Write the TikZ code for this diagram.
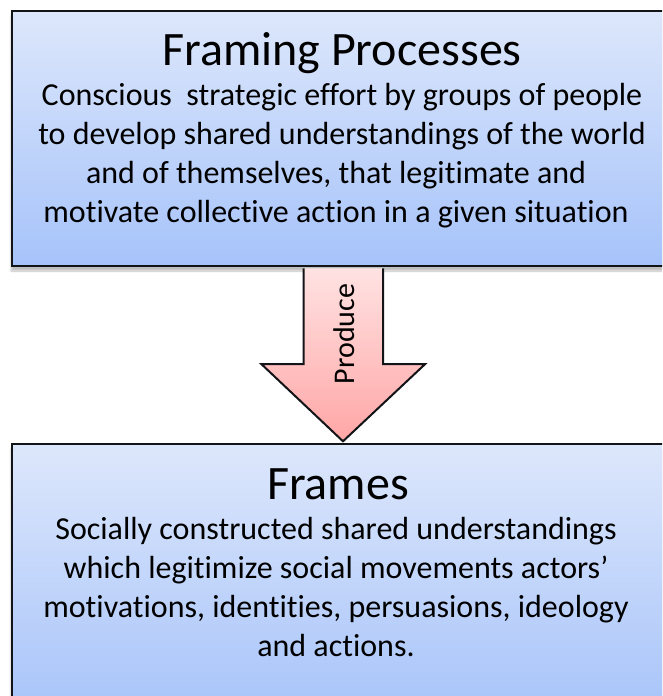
\documentclass[tikz,border=0pt]{standalone}
\usepackage{fontspec}
\setmainfont[Ligatures={NoCommon}]{Carlito}
\usetikzlibrary{calc,shadows.blur}
\definecolor{boxtop}{HTML}{DDE7FB}
\definecolor{boxbot}{HTML}{A6C3FA}
\definecolor{arrtop}{HTML}{FFE2E2}
\definecolor{arrbot}{HTML}{FFA6A6}
\definecolor{edge}{HTML}{121417}
\tikzset{
  box/.style={draw=edge, line width=2.4pt, top color=boxtop, bottom color=boxbot,
    rectangle, minimum width=660pt, inner sep=0pt,
    blur shadow={shadow xshift=-1pt, shadow yshift=-5pt, shadow blur steps=6, shadow opacity=25}},
  ttl/.style={font=\fontsize{48}{56}\selectfont, inner sep=0pt, anchor=base},
  bdy/.style={font=\fontsize{32}{38}\selectfont, inner sep=0pt, anchor=base},
  arr/.style={draw=edge, line width=2pt, top color=arrtop, bottom color=arrbot, line join=miter},
  lbl/.style={font=\fontsize{30}{34}\selectfont, inner sep=0pt, rotate=90}
}
\begin{document}
\begin{tikzpicture}[x=1pt,y=-1pt]
\useasboundingbox (0,0) rectangle (662,696);
\clip (0,0) rectangle (662,696);
\node[box, minimum height=255pt] (top) at (342,138.5) {};
\node[box, minimum height=276pt] (bottom) at (342,582) {};
\node[ttl] (toptitle) at (342,65) {Framing Processes};
\node[bdy] (t1) at (342,105) {Conscious\ \ strategic effort by groups of people};
\node[bdy] (t2) at (342,144) {to develop shared understandings of the world};
\node[bdy] (t3) at (336,183) {and of themselves, that legitimate and};
\node[bdy] (t4) at (336,222) {motivate collective action in a given situation};
\node[ttl] (bottitle) at (338,499) {Frames};
\node[bdy] (b1) at (336,539) {Socially constructed shared understandings};
\node[bdy] (b2) at (336,578) {which legitimize social movements actors’};
\node[bdy] (b3) at (336,617) {motivations, identities, persuasions, ideology};
\node[bdy] (b4) at (336,656) {and actions.};
\coordinate (tip) at ($(bottom.north)+(1,-1.5)$);
\path[arr] ($(top.south)+(-38.5,1.2)$) -- ($(top.south)+(-38.5,97)$) -- ($(top.south)+(-80.5,97)$)
  -- (tip) -- ($(top.south)+(83,97)$) -- ($(top.south)+(41,97)$) -- ($(top.south)+(41,1.2)$);
\node[lbl] (produce) at (344,334) {Produce};
\end{tikzpicture}
\end{document}
